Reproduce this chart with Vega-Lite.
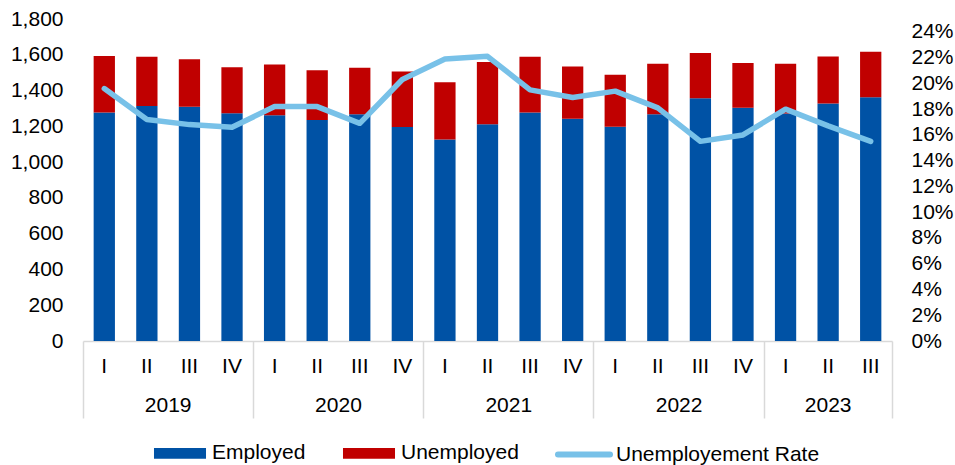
{
  "$schema": "https://vega.github.io/schema/vega-lite/v6.json",
  "autosize": {"type": "none"},
  "padding": {"left": 83, "top": 19, "right": 63, "bottom": 124},
  "width": 809,
  "height": 322,
  "config": {
    "font": "Liberation Sans",
    "view": {"stroke": null},
    "axis": {"labelFont": "Liberation Sans", "labelFontSize": 21, "labelColor": "#000000", "grid": false, "title": null},
    "legend": {"labelFont": "Liberation Sans", "labelFontSize": 21, "labelColor": "#000000"}
  },
  "data": {
    "values": [
      {"period": "2019-I", "Employed": 1278, "Unemployed": 315, "rate": 0.196},
      {"period": "2019-II", "Employed": 1314, "Unemployed": 275, "rate": 0.172},
      {"period": "2019-III", "Employed": 1310, "Unemployed": 265, "rate": 0.168},
      {"period": "2019-IV", "Employed": 1273, "Unemployed": 257, "rate": 0.166},
      {"period": "2020-I", "Employed": 1262, "Unemployed": 283, "rate": 0.182},
      {"period": "2020-II", "Employed": 1235, "Unemployed": 278, "rate": 0.182},
      {"period": "2020-III", "Employed": 1267, "Unemployed": 261, "rate": 0.169},
      {"period": "2020-IV", "Employed": 1196, "Unemployed": 310, "rate": 0.203},
      {"period": "2021-I", "Employed": 1127, "Unemployed": 319, "rate": 0.219},
      {"period": "2021-II", "Employed": 1211, "Unemployed": 349, "rate": 0.221},
      {"period": "2021-III", "Employed": 1278, "Unemployed": 311, "rate": 0.195},
      {"period": "2021-IV", "Employed": 1243, "Unemployed": 292, "rate": 0.189},
      {"period": "2022-I", "Employed": 1198, "Unemployed": 291, "rate": 0.194},
      {"period": "2022-II", "Employed": 1267, "Unemployed": 283, "rate": 0.181},
      {"period": "2022-III", "Employed": 1357, "Unemployed": 253, "rate": 0.155},
      {"period": "2022-IV", "Employed": 1304, "Unemployed": 250, "rate": 0.160},
      {"period": "2023-I", "Employed": 1272, "Unemployed": 278, "rate": 0.180},
      {"period": "2023-II", "Employed": 1327, "Unemployed": 264, "rate": 0.167},
      {"period": "2023-III", "Employed": 1362, "Unemployed": 255, "rate": 0.155}
    ]
  },
  "layer": [
    {
      "transform": [{"fold": ["Employed", "Unemployed"], "as": ["status", "value"]}],
      "mark": {"type": "bar"},
      "encoding": {
        "x": {
          "field": "period", "type": "nominal", "sort": null,
          "scale": {"type": "band", "paddingInner": 0.5, "paddingOuter": 0.25},
          "axis": {
            "orient": "bottom",
            "labelExpr": "split(datum.value, '-')[1]",
            "labelAngle": 0,
            "ticks": false,
            "tickSize": 0,
            "domainColor": "#D9D9D9",
            "domainWidth": 1.5,
            "labelBaseline": "middle",
            "labelPadding": 25
          }
        },
        "y": {
          "field": "value", "type": "quantitative", "stack": "zero",
          "scale": {"domain": [0, 1800]},
          "axis": {
            "orient": "left",
            "values": [0, 200, 400, 600, 800, 1000, 1200, 1400, 1600, 1800],
            "format": ",.0f",
            "ticks": false,
            "tickSize": 0,
            "domain": false,
            "labelPadding": 20,
            "labelBaseline": "middle"
          }
        },
        "color": {
          "field": "status", "type": "nominal",
          "scale": {
            "domain": ["Employed", "Unemployed", "Unemployement Rate"],
            "range": ["#0052A5", "#C00000", "#78C1E8"]
          },
          "legend": {
            "orient": "none",
            "legendX": 68,
            "legendY": 405,
            "direction": "horizontal",
            "title": null,
            "padding": 0,
            "symbolSize": 2704,
            "symbolStrokeWidth": 6,
            "symbolType": "M-0.885,-0.09H0.885V0.09H-0.885Z",
            "columnPadding": 27,
            "labelOffset": 3,
            "labelLimit": 400,
            "encode": {
              "symbols": {
                "update": {
                  "shape": {"signal": "datum.value === 'Unemployement Rate' ? 'stroke' : 'M-0.885,-0.09H0.885V0.09H-0.885Z'"},
                  "fill": {"signal": "scale('color', datum.value)"},
                  "stroke": {"signal": "scale('color', datum.value)"},
                  "strokeCap": {"signal": "datum.value === 'Unemployement Rate' ? 'round' : 'butt'"},
                  "strokeJoin": {"value": "miter"},
                  "opacity": {"value": 1},
                  "fillOpacity": {"value": 1},
                  "strokeOpacity": {"value": 1}
                }
              }
            }
          }
        },
        "order": {"field": "status", "sort": "ascending"}
      }
    },
    {
      "mark": {"type": "line", "strokeWidth": 5.5, "strokeCap": "round", "strokeJoin": "round"},
      "encoding": {
        "x": {
          "field": "period", "type": "nominal", "sort": null,
          "scale": {"type": "band", "paddingInner": 0, "paddingOuter": 0},
          "axis": {
            "orient": "bottom",
            "values": ["2019-I", "2020-I", "2021-I", "2022-I", "2023-I"],
            "bandPosition": 0,
            "labels": false,
            "domain": false,
            "ticks": true,
            "tickSize": 77,
            "tickColor": "#D9D9D9",
            "tickWidth": 1.5
          }
        },
        "y": {
          "field": "rate", "type": "quantitative",
          "scale": {"domain": [0, 0.25]},
          "axis": {
            "orient": "right",
            "values": [0, 0.02, 0.04, 0.06, 0.08, 0.1, 0.12, 0.14, 0.16, 0.18, 0.2, 0.22, 0.24],
            "format": ".0%",
            "ticks": false,
            "tickSize": 0,
            "domain": false,
            "labelPadding": 19,
            "labelBaseline": "middle"
          }
        },
        "color": {"datum": "Unemployement Rate"}
      }
    },
    {
      "mark": {"type": "rule", "opacity": 0},
      "encoding": {
        "x": {
          "field": "period", "type": "nominal", "sort": null,
          "scale": {"type": "band", "paddingInner": 0, "paddingOuter": 0},
          "axis": {
            "orient": "bottom",
            "values": ["2019-II", "2020-II", "2021-II", "2022-II", "2023-II", "2023-III"],
            "bandPosition": 1,
            "labelExpr": "datum.value === '2023-III' ? '' : slice(datum.value, 0, 4)",
            "labelAngle": 0,
            "domain": false,
            "ticks": true,
            "tickSize": 77,
            "tickColor": "#D9D9D9",
            "tickWidth": 1.5,
            "tickOpacity": {"condition": {"test": "datum.value === '2023-III'", "value": 1}, "value": 0},
            "labelOffset": {"condition": {"test": "datum.value === '2023-II'", "value": 0}, "value": 21.3},
            "labelPadding": -13,
            "labelBaseline": "middle"
          }
        }
      }
    }
  ],
  "resolve": {
    "scale": {"x": "independent", "y": "independent"},
    "axis": {"x": "independent", "y": "independent"}
  }
}
